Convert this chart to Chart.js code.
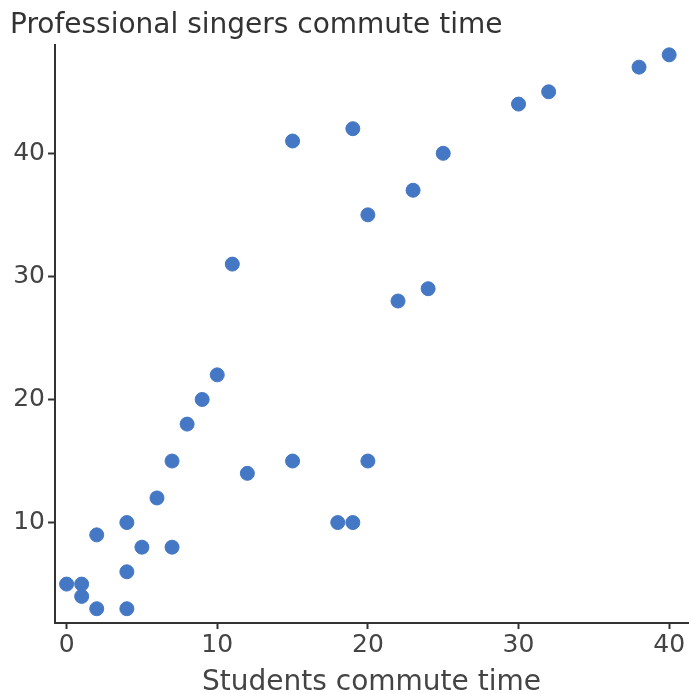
<!DOCTYPE html>
<html>
<head>
<meta charset="utf-8">
<script src="https://cdn.jsdelivr.net/npm/chart.js@4"></script>
<style>
  html, body { margin: 0; padding: 0; background: #fff; }
  #wrap { width: 689px; height: 694px; }
</style>
</head>
<body>
<div id="wrap"><canvas id="chart-commute"></canvas></div>
<script>
const studentsTime = [0, 1, 1, 2, 4, 2, 4, 5, 7, 4, 6, 7, 8, 9, 10, 11, 12, 15, 15, 18, 19, 19, 20, 20, 22, 23, 24, 25, 30, 32, 38, 40];
const singersTime = [5, 5, 4, 3, 3, 9, 10, 8, 8, 6, 12, 15, 18, 20, 22, 31, 14, 15, 41, 10, 10, 42, 35, 15, 28, 37, 29, 40, 44, 45, 47, 48];
const xTicks = [0, 10, 20, 30, 40];
const yTicks = [10, 20, 30, 40];

const points = studentsTime.map((x, i) => ({ x: x, y: singersTime[i] }));
const axisColor = '#333';
const textColor = '#444';
const fontFamily = 'DejaVu Sans, Verdana, sans-serif';

const configCommute = {
  type: 'scatter',
  data: {
    datasets: [{
      data: points,
      backgroundColor: '#4477c4',
      borderColor: '#4477c4',
      pointRadius: 7,
      pointHoverRadius: 7
    }]
  },
  options: {
    responsive: true,
    maintainAspectRatio: false,
    animation: false,
    layout: { autoPadding: false, padding: { left: 10, right: 1, top: 0, bottom: 0 } },
    plugins: {
      legend: { display: false },
      tooltip: { enabled: false },
      title: {
        display: true,
        text: 'Professional singers commute time',
        align: 'start',
        color: '#333',
        font: { family: fontFamily, size: 28, weight: 'normal', lineHeight: 1.2 },
        padding: { top: 9, bottom: 2.4 }
      }
    },
    scales: {
      x: {
        type: 'linear',
        min: -0.77,
        max: 41.25,
        afterBuildTicks: (scale) => { scale.ticks = xTicks.map(v => ({ value: v })); },
        afterFit: (scale) => { scale.height = 71; scale.paddingLeft = 0; scale.paddingRight = 0; },
        border: { display: true, color: axisColor, width: 2 },
        grid: { display: true, drawOnChartArea: false, color: axisColor, tickLength: 6, tickWidth: 2 },
        ticks: { color: textColor, font: { family: fontFamily, size: 25 }, padding: 1 },
        title: {
          display: true,
          text: 'Students commute time',
          color: textColor,
          font: { family: fontFamily, size: 28, lineHeight: 0.8 },
          padding: { top: 0, bottom: 0 }
        }
      },
      y: {
        type: 'linear',
        min: 1.84,
        max: 48.8,
        afterBuildTicks: (scale) => { scale.ticks = yTicks.map(v => ({ value: v })); },
        afterFit: (scale) => { scale.width = 45; scale.paddingTop = 0; scale.paddingBottom = 0; },
        border: { display: true, color: axisColor, width: 2 },
        grid: { display: true, drawOnChartArea: false, color: axisColor, tickLength: 7, tickWidth: 2 },
        ticks: { color: textColor, font: { family: fontFamily, size: 25 }, padding: 3 }
      }
    }
  }
};

const myChartCommute = new Chart(
  document.getElementById('chart-commute'),
  configCommute
);
</script>
</body>
</html>
